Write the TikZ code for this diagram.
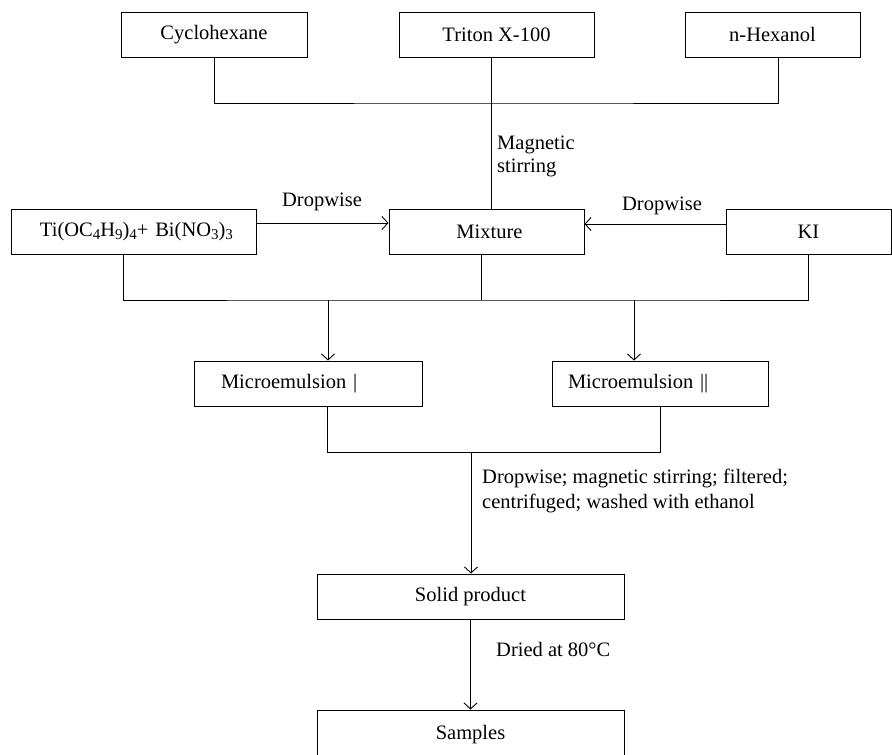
\documentclass[tikz,border=0pt]{standalone}
\usepackage{fontspec}
\setmainfont{Liberation Serif}
\usetikzlibrary{arrows.meta}
\newcommand{\mysub}[1]{\raisebox{-0.3ex}{\fontsize{15}{15}\selectfont #1}}
\begin{document}
\begin{tikzpicture}[x=1pt,y=-1pt,
  box/.style={draw, line width=0.9pt, minimum height=45pt, inner sep=0pt, font=\fontsize{20.5}{24}\selectfont},
  conn/.style={line width=0.9pt},
  arr/.style={conn, -{Straight Barb[length=6pt,width=13pt,line width=0.9pt]}},
  lbl/.style={font=\fontsize{20.5}{24}\selectfont, inner sep=0pt, align=left}
]
\useasboundingbox (0,0) rectangle (892,755);
\clip (0,0) rectangle (892,755);
% top row
\node[box, minimum width=186pt] (cyc) at (214,34.5) {Cyclohexane};
\node[box, minimum width=195pt] (tri) at (496.5,34.5) {Triton X-100};
\node[box, minimum width=175pt] (hex) at (772.5,34.5) {n-Hexanol};
% middle row
\node[box, minimum width=245pt, text width=235pt, align=left] (ti) at (133.5,231.5) {\hspace*{24pt}Ti(OC\mysub{4}H\mysub{9})\mysub{4}+ Bi(NO\mysub{3})\mysub{3}};
\node[box, minimum width=195pt] (mix) at (486.5,231.5) {\hspace*{6pt}Mixture};
\node[box, minimum width=165pt] (ki) at (808.5,231.5) {KI};
% microemulsions
\node[box, minimum width=228pt, text width=174pt, align=left] (m1) at (308,383.5) {Microemulsion |};
\node[box, minimum width=216pt, text width=184pt, align=left] (m2) at (660,383.5) {Microemulsion ||};
% bottom
\node[box, minimum width=307pt] (sol) at (470.5,596.5) {Solid product};
\node[box, minimum width=307pt, minimum height=50pt] (sam) at (470.5,735) {Samples};
% top connectors
\coordinate (j1) at (491,103);
\draw[conn] (cyc.south) |- (j1) -| ([xshift=5.5pt]hex.south);
\draw[conn] ([xshift=-5.5pt]tri.south) -- (j1 |- mix.north);
\node[lbl, anchor=west, font=\fontsize{20.5}{23}\selectfont] (ms) at (497,156.5) {Magnetic\\stirring};
% dropwise arrows
\draw[arr] ([yshift=8.5pt]ti.east) -- ([yshift=8.5pt]ti.east -| mix.west);
\draw[arr] ([yshift=7.5pt]ki.west) -- ([yshift=7.5pt]ki.west -| mix.east);
\node[lbl] (d1) at (322,202) {Dropwise};
\node[lbl] (d2) at (662,206) {Dropwise};
% second connectors
\coordinate (j2) at (328,300);
\coordinate (j3) at (634,300);
\coordinate (tx) at ([xshift=-10.5pt]ti.south);
\coordinate (mx) at ([xshift=-5.5pt]mix.south);
\draw[conn] (tx) |- (j2) -- (j3) -| (ki.south);
\draw[conn] (mx) -- (mx |- j2);
\draw[arr] (j2) -- (j2 |- m1.north);
\draw[arr] (j3) -- (j3 |- m2.north);
% third connectors
\coordinate (j4) at (327.5,452);
\coordinate (j5) at (471,452);
\draw[conn] (j4 |- m1.south) -- (j4) -- (j4 -| m2.south) -- (m2.south);
\draw[arr] (j5) -- (j5 |- sol.north);
\node[lbl, anchor=west, font=\fontsize{20.5}{25}\selectfont] (l3) at (482,490.5) {Dropwise; magnetic stirring; filtered;\\centrifuged; washed with ethanol};
% final
\draw[arr] (sol.south) -- (sam.north);
\node[lbl, anchor=west] (l4) at (496,649) {Dried at 80°C};
\end{tikzpicture}
\end{document}
